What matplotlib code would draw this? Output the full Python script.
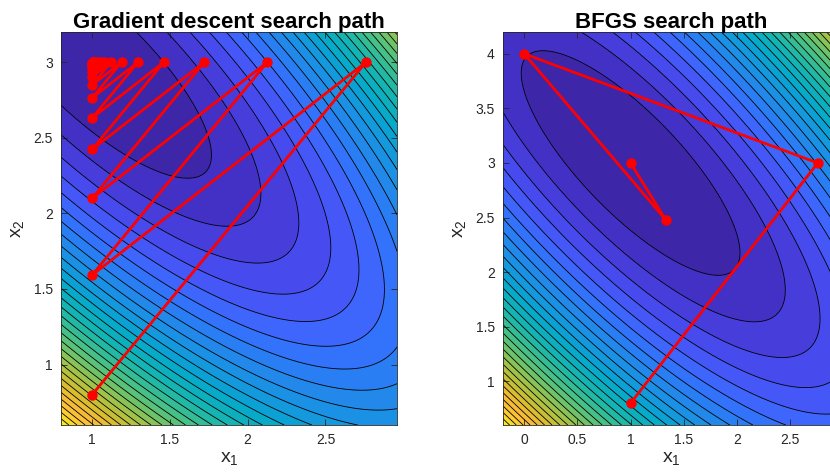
import numpy as np
import matplotlib
matplotlib.use('Agg')
import matplotlib.pyplot as plt
from matplotlib.colors import LinearSegmentedColormap, Normalize
from matplotlib.ticker import FormatStrFormatter

plt.rcParams['font.family'] = ['Liberation Sans', 'DejaVu Sans']
plt.rcParams['mathtext.default'] = 'regular'

# search paths
gd_x1 = [1.0, 2.76, 1.0, 2.126, 1.0, 1.721, 1.0, 1.461, 1.0, 1.295, 1.0, 1.189,
         1.0, 1.121, 1.0, 1.077, 1.0, 1.050, 1.0, 1.032, 1.0, 1.020, 1.0, 1.013,
         1.0, 1.008, 1.0, 1.005, 1.0, 1.003]
gd_x2 = [0.8, 3.0, 1.592, 3.0, 2.099, 3.0, 2.423, 3.0, 2.631, 3.0, 2.764, 3.0,
         2.849, 3.0, 2.903, 3.0, 2.938, 3.0, 2.960, 3.0, 2.975, 3.0, 2.984, 3.0,
         2.990, 3.0, 2.993, 3.0, 2.996, 3.0]

bfgs_x1 = [1.0, 2.76, 0.0, 1.33, 1.0]
bfgs_x2 = [0.8, 3.0, 4.0, 2.48, 3.0]

titles = ['Gradient descent search path', 'BFGS search path']

# parula-like colormap
parula = LinearSegmentedColormap.from_list('parula', [
    (0.00, (0.2422, 0.1504, 0.6603)),
    (0.05, (0.2700, 0.2200, 0.8300)),
    (0.10, (0.2810, 0.3000, 0.9400)),
    (0.15, (0.2600, 0.3800, 0.9900)),
    (0.20, (0.1900, 0.4600, 0.9800)),
    (0.25, (0.1400, 0.5300, 0.9300)),
    (0.31, (0.0900, 0.5900, 0.8800)),
    (0.38, (0.0228, 0.6600, 0.8000)),
    (0.46, (0.0800, 0.7100, 0.6900)),
    (0.54, (0.2500, 0.7500, 0.5500)),
    (0.62, (0.4500, 0.7650, 0.4000)),
    (0.70, (0.6800, 0.7600, 0.2500)),
    (0.78, (0.8600, 0.7400, 0.1800)),
    (0.84, (0.9700, 0.7300, 0.2200)),
    (0.90, (0.9900, 0.7800, 0.2000)),
    (0.95, (0.9600, 0.8800, 0.1500)),
    (1.00, (0.9769, 0.9839, 0.0805)),
])

def booth(x1, x2):
    return (x1 + 2 * x2 - 7) ** 2 + (2 * x1 + x2 - 5) ** 2

def draw(ax, px, py, title):
    xlo, xhi = min(px) - 0.2, max(px) + 0.2
    ylo, yhi = min(py) - 0.2, max(py) + 0.2
    g1, g2 = np.meshgrid(np.linspace(xlo, xhi, 400), np.linspace(ylo, yhi, 400))
    z = booth(g1, g2)
    lv = np.linspace(z.min(), z.max(), 32)
    d = lv[1] - lv[0]
    ax.contourf(g1, g2, z, levels=lv, cmap=parula,
                norm=Normalize(lv[0] + d / 2, lv[-1] + d / 2))
    ax.contour(g1, g2, z, levels=lv[1:-1], colors='k', linewidths=0.6)
    ax.plot(px, py, '-o', color='red', lw=2, ms=6.5)
    ax.set_xlim(xlo, xhi)
    ax.set_ylim(ylo, yhi)
    ax.set_title(title, fontsize=16, fontweight='bold', pad=3)
    ax.set_xlabel('x$_1$', fontsize=14, color='0.15', labelpad=2)
    ax.set_ylabel('x$_2$', fontsize=14, color='0.15', labelpad=5)
    ax.xaxis.set_major_locator(plt.MultipleLocator(0.5))
    ax.yaxis.set_major_locator(plt.MultipleLocator(0.5))
    ax.xaxis.set_major_formatter(FormatStrFormatter('%g'))
    ax.yaxis.set_major_formatter(FormatStrFormatter('%g'))
    ax.tick_params(direction='in', top=True, right=True, length=4, width=0.6,
                   colors='0.15', labelsize=10, pad=6)
    for s in ax.spines.values():
        s.set_color('0.15')
        s.set_linewidth(0.6)

fig = plt.figure(figsize=(8.3, 4.74), dpi=100)
ax1 = fig.add_axes([61 / 830, 1 - 425 / 474, 336 / 830, 393 / 474])
ax2 = fig.add_axes([503 / 830, 1 - 425 / 474, 336 / 830, 393 / 474])

draw(ax1, gd_x1, gd_x2, titles[0])
draw(ax2, bfgs_x1, bfgs_x2, titles[1])

fig.savefig('out.png', dpi=100)
